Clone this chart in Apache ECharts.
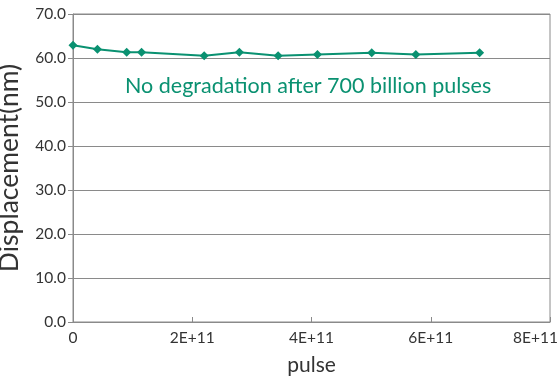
<!DOCTYPE html>
<html><head><meta charset="utf-8">
<script src="https://cdn.jsdelivr.net/npm/echarts@6/dist/echarts.min.js"></script>
<style>html,body{margin:0;padding:0;background:#fff}#c{width:560px;height:385px}</style>
</head><body><div id="c"></div>
<script>
const pulses = [0, 0.41e11, 0.90e11, 1.15e11, 2.20e11, 2.79e11, 3.44e11, 4.10e11, 5.01e11, 5.75e11, 6.82e11];
const displacement = [62.9, 62.0, 61.3, 61.3, 60.5, 61.3, 60.5, 60.8, 61.2, 60.8, 61.2];
const annotation = 'No degradation after 700 billion pulses';
const xName = 'pulse';
const yName = 'Displacement(nm)';

const green = '#0a9171';
const grey = '#8a8a8a';
const font = 'Lato';
const chart = echarts.init(document.getElementById('c'), null, {renderer: 'canvas'});
chart.setOption({
  animation: false,
  textStyle: {fontFamily: font},
  grid: {left: 73, right: 10, top: 14, bottom: 63, show: true, borderColor: grey, borderWidth: 1,
         containLabel: false, outerBoundsMode: 'none'},
  xAxis: {
    type: 'value', min: 0, max: 8e11, interval: 2e11,
    name: xName, nameLocation: 'middle', nameGap: 33,
    nameTextStyle: {fontSize: 21, color: '#333', fontFamily: font},
    axisLine: {lineStyle: {color: grey}},
    axisTick: {show: true, inside: true, length: 5, lineStyle: {color: grey}},
    splitLine: {show: false},
    axisLabel: {fontSize: 15.5, color: '#333', margin: 8, fontFamily: font,
      formatter: v => v === 0 ? '0' : (v >= 8e11 ? '{t|' + (v / 1e11) + 'E+11}{s|}' : (v / 1e11) + 'E+11'),
      rich: {t: {fontSize: 15.5, color: '#333', fontFamily: font}, s: {width: 29}}}
  },
  yAxis: {
    type: 'value', min: 0, max: 70, interval: 10,
    name: yName, nameLocation: 'middle', nameGap: 50,
    nameTextStyle: {fontSize: 26.5, color: '#333', fontFamily: font},
    axisLine: {show: true, lineStyle: {color: grey}},
    axisTick: {show: true, inside: false, length: 5, lineStyle: {color: grey}},
    splitLine: {show: true, lineStyle: {color: grey, width: 1}},
    axisLabel: {fontSize: 15.5, color: '#333', margin: 7, fontFamily: font,
      formatter: v => v.toFixed(1)}
  },
  graphic: [{
    type: 'text', left: 125, top: 75,
    style: {text: annotation, fontSize: 21.5, fill: green, fontFamily: font}
  }],
  series: [{
    type: 'line',
    data: pulses.map((p, i) => [p, displacement[i]]),
    symbol: 'diamond', symbolSize: 9,
    lineStyle: {color: green, width: 2},
    itemStyle: {color: green}
  }]
});
</script></body></html>
